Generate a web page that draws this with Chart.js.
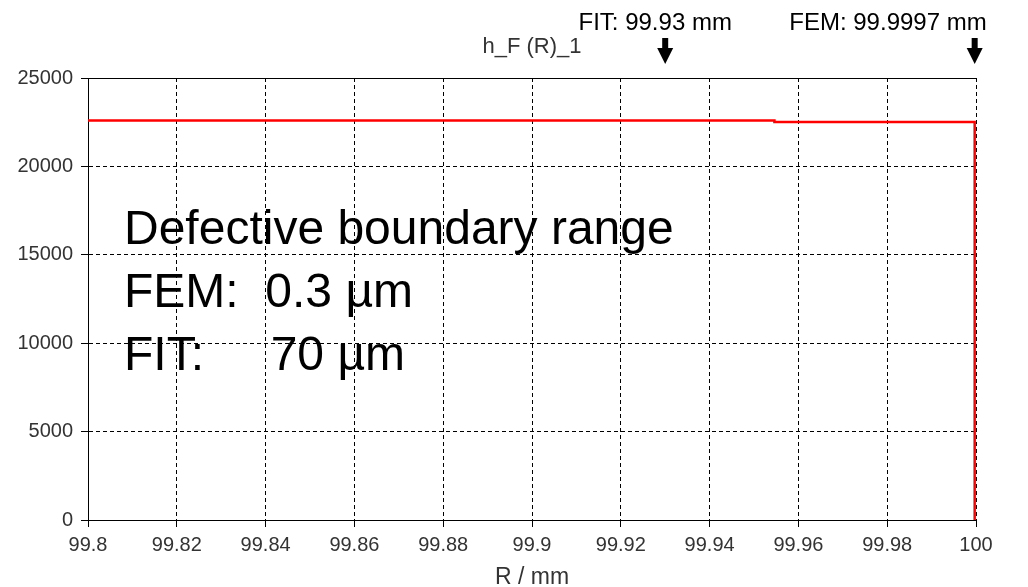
<!DOCTYPE html>
<html>
<head>
<meta charset="utf-8">
<title>h_F (R)_1</title>
<script src="https://cdn.jsdelivr.net/npm/chart.js@4.4.1/dist/chart.umd.min.js"></script>
<style>
  html, body { margin: 0; padding: 0; background: #fff; }
  #wrap { width: 1028px; height: 587px; }
</style>
</head>
<body>
<div id="wrap"><canvas id="hfChart" width="1028" height="587"></canvas></div>
<script>
  'use strict';

  // values
  var rValues = [99.8, 99.9546, 99.9546, 99.9997, 99.9997];
  var hValues = [22600, 22600, 22510, 22510, 0];

  var xTicks = [99.8, 99.82, 99.84, 99.86, 99.88, 99.9, 99.92, 99.94, 99.96, 99.98, 100];
  var xTickLabels = ['99.8', '99.82', '99.84', '99.86', '99.88', '99.9', '99.92', '99.94', '99.96', '99.98', '100'];
  var yTicks = [0, 5000, 10000, 15000, 20000, 25000];
  var yTickLabels = ['0', '5000', '10000', '15000', '20000', '25000'];

  var markerValues = [99.93, 99.9997];
  var markerLabels = ['FIT: 99.93 mm', 'FEM: 99.9997 mm'];

  var noteLines = ['Defective boundary range', 'FEM:  0.3 \u00b5m', 'FIT:     70 \u00b5m'];
  var chartTitle = 'h_F (R)_1';
  var xAxisTitle = 'R / mm';

  var smallFont = 'Liberation Sans, Arial, sans-serif';

  function setTicks(values) {
    return function (scale) {
      scale.ticks = values.map(function (v) { return { value: v }; });
    };
  }

  function drawArrow(ctx, x) {
    ctx.fillStyle = '#000';
    ctx.fillRect(x - 3, 38, 6, 11);
    ctx.beginPath();
    ctx.moveTo(x - 8, 48);
    ctx.lineTo(x + 8, 48);
    ctx.lineTo(x, 64);
    ctx.closePath();
    ctx.fill();
  }

  var decorPlugin = {
    id: 'decor',
    afterDraw: function (chart) {
      var ctx = chart.ctx;
      var area = chart.chartArea;
      var xs = chart.scales.x;
      var i;

      ctx.save();

      // solid frame line on top
      ctx.strokeStyle = '#000';
      ctx.lineWidth = 1;
      ctx.beginPath();
      ctx.moveTo(area.left, Math.round(area.top) + 0.5);
      ctx.lineTo(area.right, Math.round(area.top) + 0.5);
      ctx.stroke();

      // plot title and axis title
      ctx.fillStyle = '#333';
      ctx.textAlign = 'center';
      ctx.textBaseline = 'alphabetic';
      ctx.font = '22px ' + smallFont;
      ctx.fillText(chartTitle, (area.left + area.right) / 2, 53);
      ctx.font = '23px ' + smallFont;
      ctx.fillText(xAxisTitle, (area.left + area.right) / 2, 584);

      // FIT / FEM markers with arrows
      ctx.fillStyle = '#000';
      ctx.font = '24px ' + smallFont;
      for (i = 0; i < markerValues.length; i++) {
        var px = xs.getPixelForValue(markerValues[i]);
        drawArrow(ctx, px);
        if (i === markerValues.length - 1) {
          ctx.textAlign = 'right';
          ctx.fillText(markerLabels[i], px + 12, 30);
        } else {
          ctx.textAlign = 'center';
          ctx.fillText(markerLabels[i], px - 10, 30);
        }
      }

      // big note inside the plot
      ctx.textAlign = 'left';
      ctx.font = '48px ' + smallFont;
      for (i = 0; i < noteLines.length; i++) {
        ctx.fillText(noteLines[i], 124, 244 + i * 63);
      }

      ctx.restore();
    }
  };

  var gridOpts = {
    color: '#000',
    lineWidth: 1,
    drawTicks: true,
    tickLength: 7,
    tickColor: '#000',
    tickWidth: 1
  };
  var borderOpts = { display: true, color: '#000', width: 1, dash: [4, 3] };

  new Chart(document.getElementById('hfChart').getContext('2d'), {
    type: 'scatter',
    data: {
      datasets: [{
        label: chartTitle,
        data: rValues.map(function (r, i) { return { x: r, y: hValues[i] }; }),
        showLine: true,
        borderColor: '#ff0000',
        backgroundColor: '#ff0000',
        borderWidth: 2.5,
        pointRadius: 0,
        tension: 0
      }]
    },
    options: {
      responsive: false,
      animation: false,
      layout: { padding: { left: 0, right: 52, top: 78, bottom: 0 } },
      plugins: {
        legend: { display: false },
        title: { display: false },
        tooltip: { enabled: false }
      },
      scales: {
        x: {
          type: 'linear',
          min: 99.8,
          max: 100,
          afterBuildTicks: setTicks(xTicks),
          afterFit: function (scale) { scale.height = 67; },
          grid: gridOpts,
          border: borderOpts,
          ticks: {
            autoSkip: false,
            maxRotation: 0,
            padding: 6,
            color: '#333',
            font: { family: smallFont, size: 20 },
            callback: function (v, idx) { return xTickLabels[idx]; }
          }
        },
        y: {
          type: 'linear',
          min: 0,
          max: 25000,
          afterBuildTicks: setTicks(yTicks),
          afterFit: function (scale) { scale.width = 88; },
          grid: gridOpts,
          border: borderOpts,
          ticks: {
            padding: 8,
            color: '#333',
            font: { family: smallFont, size: 20 },
            callback: function (v, idx) { return yTickLabels[idx]; }
          }
        }
      }
    },
    plugins: [decorPlugin]
  });
</script>
</body>
</html>
